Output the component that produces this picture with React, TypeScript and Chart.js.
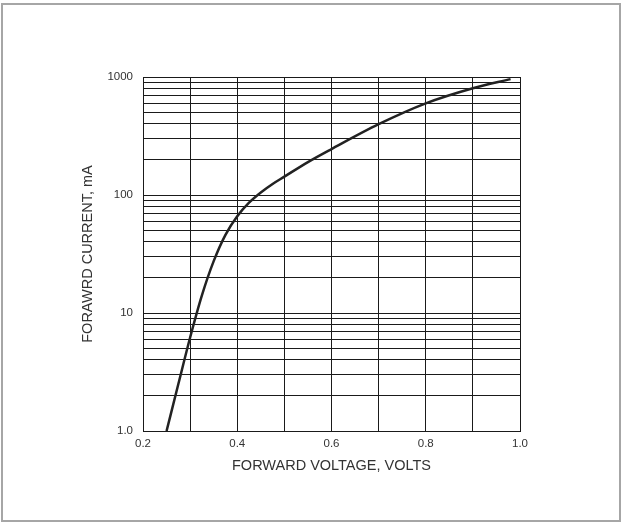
import React, { useEffect, useRef } from "react";
import { Chart, registerables } from "chart.js";

Chart.register(...registerables);

const voltage = [0.25, 0.275, 0.3, 0.325, 0.35, 0.375, 0.4, 0.425, 0.45, 0.475, 0.5, 0.55, 0.6, 0.7, 0.8, 0.9, 0.98];
const current = [1.0, 2.5, 6.2, 14.1, 27.5, 46, 66, 86, 105, 124, 143, 190, 245, 398, 598, 803, 960];
const yTickValues = [1, 2, 3, 4, 5, 6, 7, 8, 9, 10, 20, 30, 40, 50, 60, 70, 80, 90, 100, 200, 300, 400, 500, 600, 700, 800, 900, 1000];
const yLabels: Record<number, string> = { 1: "1.0", 10: "10", 100: "100", 1000: "1000" };
const xLabels: Record<string, string> = { "0.2": "0.2", "0.4": "0.4", "0.6": "0.6", "0.8": "0.8", "1.0": "1.0" };
const xTitle = "FORWARD VOLTAGE, VOLTS";
const yTitle = "FORAWRD CURRENT, mA";

export default function App() {
  const ref = useRef<HTMLCanvasElement>(null);
  useEffect(() => {
    document.body.style.margin = "0";
    const ctx = ref.current!;
    const chart = new Chart(ctx, {
      type: "line",
      data: {
        datasets: [
          {
            data: voltage.map((v, i) => ({ x: v, y: current[i] })),
            borderColor: "#222",
            borderWidth: 2.5,
            pointRadius: 0,
            cubicInterpolationMode: "monotone",
            fill: false,
          },
        ],
      },
      options: {
        animation: false,
        responsive: false,
        layout: { padding: { left: 0, top: 77, right: 104, bottom: 0 } },
        plugins: { legend: { display: false }, tooltip: { enabled: false } },
        scales: {
          x: {
            type: "linear",
            min: 0.2,
            max: 1.0,
            ticks: {
              stepSize: 0.1,
              autoSkip: false,
              maxRotation: 0,
              padding: 6,
              color: "#333",
              font: { family: "Liberation Sans", size: 11.5 },
              callback: (v: any) => xLabels[Number(v).toFixed(1)] ?? "",
            },
            grid: { color: "#1a1a1a", lineWidth: 1, drawTicks: false },
            border: { display: true, color: "#1a1a1a", width: 1 },
            title: {
              display: true,
              text: xTitle,
              color: "#333",
              font: { family: "Liberation Sans", size: 14.5 },
              padding: { top: 0, bottom: 49 },
            },
            afterFit: (s: any) => {
              s.height = 93;
            },
          },
          y: {
            type: "logarithmic",
            min: 1,
            max: 1000,
            afterBuildTicks: (s: any) => {
              s.ticks = yTickValues.map((v) => ({ value: v }));
            },
            ticks: {
              autoSkip: false,
              padding: 10,
              color: "#333",
              font: { family: "Liberation Sans", size: 11.5 },
              callback: (v: any) => yLabels[Number(v)] ?? "",
            },
            grid: { color: "#1a1a1a", lineWidth: 1, drawTicks: false },
            border: { display: true, color: "#1a1a1a", width: 1 },
            title: {
              display: true,
              text: yTitle,
              color: "#333",
              font: { family: "Liberation Sans", size: 14.5 },
              padding: { top: 79, bottom: 0 },
            },
            afterFit: (s: any) => {
              s.width = 143;
            },
          },
        },
      },
    });
    return () => chart.destroy();
  }, []);
  return (
    <div style={{ position: "relative", width: 624, height: 524, background: "#fff" }}>
      <div
        style={{
          position: "absolute",
          left: 1,
          top: 3,
          width: 620,
          height: 519,
          boxSizing: "border-box",
          border: "2px solid #a6a6a6",
        }}
      />
      <canvas ref={ref} width={624} height={524} style={{ position: "absolute", left: 0, top: 0, display: "block" }} />
    </div>
  );
}
